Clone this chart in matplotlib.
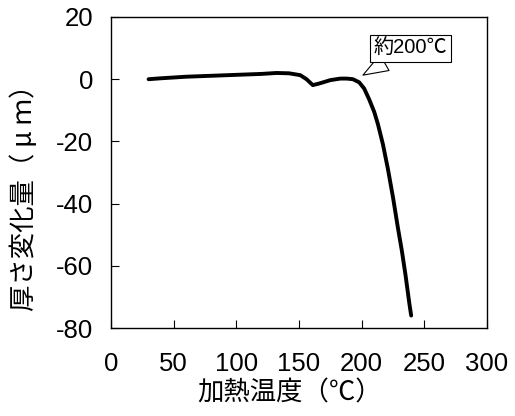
import numpy as np
import matplotlib.pyplot as plt

plt.rcParams['font.family'] = ['Liberation Sans', 'Noto Sans CJK JP', 'DejaVu Sans']
plt.rcParams['axes.unicode_minus'] = False

# heating temperature (deg C) and thickness change (um)
temp = [30, 40, 60, 80, 100, 120, 132, 142, 151, 156, 161, 166, 175, 183, 188,
        193, 198, 202, 206, 210, 213, 217, 221, 225, 229, 232, 235, 238, 239.5]
change = [0, 0.3, 0.8, 1.1, 1.4, 1.7, 2.0, 1.9, 1.3, 0, -1.9, -1.4, -0.3, 0.2, 0.2,
          0, -1.0, -3, -6.5, -10.5, -14.5, -21, -29, -38, -48, -55, -63, -72, -76]

xticks = [0, 50, 100, 150, 200, 250, 300]
yticks = [-80, -60, -40, -20, 0, 20]

fig = plt.figure(figsize=(5.15, 4.16), dpi=100)
ax = fig.add_axes([111/515, 1 - 328/416, 376/515, 311/416])

ax.plot(temp, change, color='black', lw=2.8, solid_capstyle='round', solid_joinstyle='round')

ax.set_xlim(0, 300)
ax.set_ylim(-80, 20)
ax.set_xticks(xticks)
ax.set_yticks(yticks)
ax.tick_params(axis='both', direction='in', length=6, width=0.8, labelsize=18.5)
ax.tick_params(axis='x', pad=17)
ax.tick_params(axis='y', pad=13)
for s in ax.spines.values():
    s.set_linewidth(1.0)

ax.set_xlabel('加熱温度（℃）', fontsize=19, family=['Noto Sans CJK JP'])
ax.set_ylabel('厚さ変化量（ μ ｍ）', fontsize=19, family=['Noto Sans CJK JP'])
ax.xaxis.set_label_coords(0.475, -0.165)
ax.yaxis.set_label_coords(-0.195, 0.44)

ax.annotate('約200℃', xy=(201, 1.3), xytext=(239, 9.8), ha='center', va='center',
            fontsize=14.5, family=['Liberation Sans', 'Noto Sans CJK JP'],
            bbox=dict(boxstyle='square,pad=0.2', fc='white', ec='black', lw=0.8),
            arrowprops=dict(arrowstyle='wedge,tail_width=0.9', fc='white', ec='black',
                            lw=0.8, relpos=(0.25, 0.0), shrinkA=0, shrinkB=0))

fig.savefig('out.png', dpi=100)
